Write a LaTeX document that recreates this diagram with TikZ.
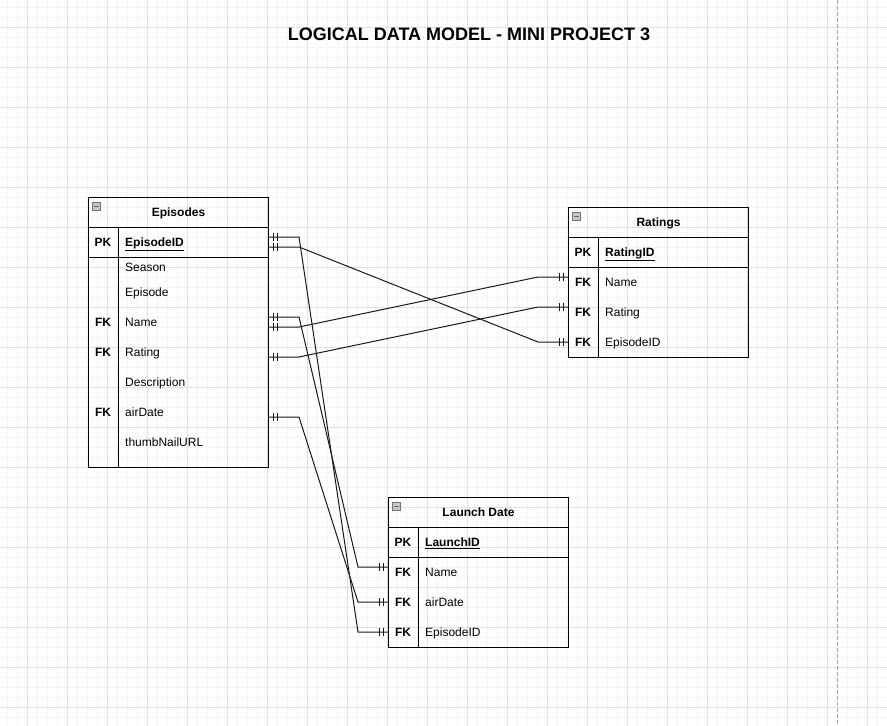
\documentclass[tikz,border=0pt]{standalone}
\usepackage{fontspec}
\setmainfont{Liberation Sans}
\usetikzlibrary{calc, positioning}

\tikzset{
  minorgrid/.style={draw=black!4, line width=0.8pt},
  majorgrid/.style={draw=black!12, line width=0.9pt},
  pageedge/.style={draw=black!35, line width=1pt, dash pattern=on 4pt off 2pt},
  entity/.style={draw, line width=1pt, minimum width=180pt, anchor=north west, inner sep=0pt},
  rule/.style={line width=1pt},
  headtxt/.style={font=\fontsize{12}{14}\selectfont\bfseries, text height=8.6pt, text depth=0pt, inner sep=0pt},
  keytxt/.style={font=\fontsize{12}{14}\selectfont\bfseries, text height=8.6pt, text depth=0pt, inner sep=0pt},
  fieldtxt/.style={font=\fontsize{12}{14}\selectfont, anchor=west, text height=8.6pt, text depth=0pt, inner sep=0pt},
  titletxt/.style={font=\fontsize{18}{21}\selectfont\bfseries, text height=12.9pt, text depth=0pt, inner sep=0pt},
  minusbox/.style={draw=black!55, fill=black!22, minimum size=8pt, inner sep=0pt, line width=0.6pt},
  relation/.style={draw=black!90, line width=1pt},
  bar/.style={draw=black!90, line width=1pt}
}

\begin{document}
\begin{tikzpicture}[x=1pt, y=-1pt]
        % Page and grid
        \useasboundingbox (0,0) rectangle (887,726);
        \fill[white] (0,0) rectangle (887,726);
        \foreach \g in {7,17,...,887} \draw[minorgrid] (\g,0) -- (\g,726);
        \foreach \g in {7,17,...,726} \draw[minorgrid] (0,\g) -- (887,\g);
        \foreach \g in {27,67,...,887} \draw[majorgrid] (\g,0) -- (\g,726);
        \foreach \g in {27,67,...,726} \draw[majorgrid] (0,\g) -- (887,\g);
        \draw[pageedge] (837,0) -- (837,726);

        % Title
        \node[titletxt] (title) at (469,34) {LOGICAL DATA MODEL - MINI PROJECT 3};

        % Episodes table
        \node[entity, minimum height=270pt] (episodes) at (88,197) {};
        \node[minusbox] (epMinus) at ($(episodes.north west)+(8.5,9)$) {};
        \draw[black!60, line width=0.8pt] ($(epMinus.west)+(2,0)$) -- ($(epMinus.east)+(-2,0)$);
        \node[headtxt] (epTitle) at ($(episodes.north)+(0,15)$) {Episodes};
        \draw[rule] ($(episodes.north west)+(0,30)$) -- ($(episodes.north east)+(0,30)$);
        \draw[rule] ($(episodes.north west)+(0,60)$) -- ($(episodes.north east)+(0,60)$);
        \draw[rule] ($(episodes.north west)+(30,30)$) -- ($(episodes.south west)+(30,0)$);
        \node[keytxt] at ($(episodes.north west)+(15,45)$) {PK};
        \node[fieldtxt] (epId) at ($(episodes.north west)+(37,45)$) {\bfseries\underline{EpisodeID}};
        \node[fieldtxt] (epSeason) at ($(episodes.north west)+(37,70)$) {Season};
        \node[fieldtxt] (epEpisode) at ($(episodes.north west)+(37,95)$) {Episode};
        \node[keytxt] at ($(episodes.north west)+(15,125)$) {FK};
        \node[fieldtxt] (epName) at ($(episodes.north west)+(37,125)$) {Name};
        \node[keytxt] at ($(episodes.north west)+(15,155)$) {FK};
        \node[fieldtxt] (epRating) at ($(episodes.north west)+(37,155)$) {Rating};
        \node[fieldtxt] (epDesc) at ($(episodes.north west)+(37,185)$) {Description};
        \node[keytxt] at ($(episodes.north west)+(15,215)$) {FK};
        \node[fieldtxt] (epAir) at ($(episodes.north west)+(37,215)$) {airDate};
        \node[fieldtxt] (epThumb) at ($(episodes.north west)+(37,245)$) {thumbNailURL};

        % Ratings table
        \node[entity, minimum height=150pt] (ratings) at (568,207) {};
        \node[minusbox] (rtMinus) at ($(ratings.north west)+(8.5,9)$) {};
        \draw[black!60, line width=0.8pt] ($(rtMinus.west)+(2,0)$) -- ($(rtMinus.east)+(-2,0)$);
        \node[headtxt] (rtTitle) at ($(ratings.north)+(0,15)$) {Ratings};
        \draw[rule] ($(ratings.north west)+(0,30)$) -- ($(ratings.north east)+(0,30)$);
        \draw[rule] ($(ratings.north west)+(0,60)$) -- ($(ratings.north east)+(0,60)$);
        \draw[rule] ($(ratings.north west)+(30,30)$) -- ($(ratings.south west)+(30,0)$);
        \node[keytxt] at ($(ratings.north west)+(15,45)$) {PK};
        \node[fieldtxt] (rtId) at ($(ratings.north west)+(37,45)$) {\bfseries\underline{RatingID}};
        \node[keytxt] at ($(ratings.north west)+(15,75)$) {FK};
        \node[fieldtxt] (rtName) at ($(ratings.north west)+(37,75)$) {Name};
        \node[keytxt] at ($(ratings.north west)+(15,105)$) {FK};
        \node[fieldtxt] (rtRating) at ($(ratings.north west)+(37,105)$) {Rating};
        \node[keytxt] at ($(ratings.north west)+(15,135)$) {FK};
        \node[fieldtxt] (rtEpId) at ($(ratings.north west)+(37,135)$) {EpisodeID};

        % Launch Date table
        \node[entity, minimum height=150pt] (launch) at (388,497) {};
        \node[minusbox] (ldMinus) at ($(launch.north west)+(8.5,9)$) {};
        \draw[black!60, line width=0.8pt] ($(ldMinus.west)+(2,0)$) -- ($(ldMinus.east)+(-2,0)$);
        \node[headtxt] (ldTitle) at ($(launch.north)+(0,15)$) {Launch Date};
        \draw[rule] ($(launch.north west)+(0,30)$) -- ($(launch.north east)+(0,30)$);
        \draw[rule] ($(launch.north west)+(0,60)$) -- ($(launch.north east)+(0,60)$);
        \draw[rule] ($(launch.north west)+(30,30)$) -- ($(launch.south west)+(30,0)$);
        \node[keytxt] at ($(launch.north west)+(15,45)$) {PK};
        \node[fieldtxt] (ldId) at ($(launch.north west)+(37,45)$) {\bfseries\underline{LaunchID}};
        \node[keytxt] at ($(launch.north west)+(15,75)$) {FK};
        \node[fieldtxt] (ldName) at ($(launch.north west)+(37,75)$) {Name};
        \node[keytxt] at ($(launch.north west)+(15,105)$) {FK};
        \node[fieldtxt] (ldAir) at ($(launch.north west)+(37,105)$) {airDate};
        \node[keytxt] at ($(launch.north west)+(15,135)$) {FK};
        \node[fieldtxt] (ldEpId) at ($(launch.north west)+(37,135)$) {EpisodeID};

        % Connector end points
        \coordinate (epIdA) at ($(epId -| episodes.east)+(0,-5)$);
        \coordinate (epIdB) at ($(epId -| episodes.east)+(0,5)$);
        \coordinate (epNameA) at ($(epName -| episodes.east)+(0,-5)$);
        \coordinate (epNameB) at ($(epName -| episodes.east)+(0,5)$);
        \coordinate (epRatingOut) at ($(epRating -| episodes.east)+(0,5)$);
        \coordinate (epAirOut) at ($(epAir -| episodes.east)+(0,5)$);
        \coordinate (rtNameIn) at ($(rtName -| ratings.west)+(0,-5)$);
        \coordinate (rtRatingIn) at ($(rtRating -| ratings.west)+(0,-5)$);
        \coordinate (rtEpIdIn) at (rtEpId -| ratings.west);
        \coordinate (ldNameIn) at ($(ldName -| launch.west)+(0,-5)$);
        \coordinate (ldAirIn) at (ldAir -| launch.west);
        \coordinate (ldEpIdIn) at (ldEpId -| launch.west);

        % Relations
        \draw[relation] (epIdA) -- ++(30,0) -- ($(ldEpIdIn)+(-30,0)$) -- (ldEpIdIn);
        \draw[relation] (epIdB) -- ++(30,0) -- ($(rtEpIdIn)+(-30,0)$) -- (rtEpIdIn);
        \draw[relation] (epNameA) -- ++(30,0) -- ($(ldNameIn)+(-30,0)$) -- (ldNameIn);
        \draw[relation] (epNameB) -- ++(30,0) -- ($(rtNameIn)+(-30,0)$) -- (rtNameIn);
        \draw[relation] (epRatingOut) -- ++(30,0) -- ($(rtRatingIn)+(-30,0)$) -- (rtRatingIn);
        \draw[relation] (epAirOut) -- ++(30,0) -- ($(ldAirIn)+(-30,0)$) -- (ldAirIn);

        % Mandatory-one marks
        \foreach \p in {epIdA,epIdB,epNameA,epNameB,epRatingOut,epAirOut}
            \draw[bar] ($(\p)+(4,-4)$) -- ++(0,8) ($(\p)+(8,-4)$) -- ++(0,8);
        \foreach \p in {rtNameIn,rtRatingIn,rtEpIdIn,ldNameIn,ldAirIn,ldEpIdIn}
            \draw[bar] ($(\p)+(-5,-4)$) -- ++(0,8) ($(\p)+(-9,-4)$) -- ++(0,8);
    \end{tikzpicture}
\end{document}
